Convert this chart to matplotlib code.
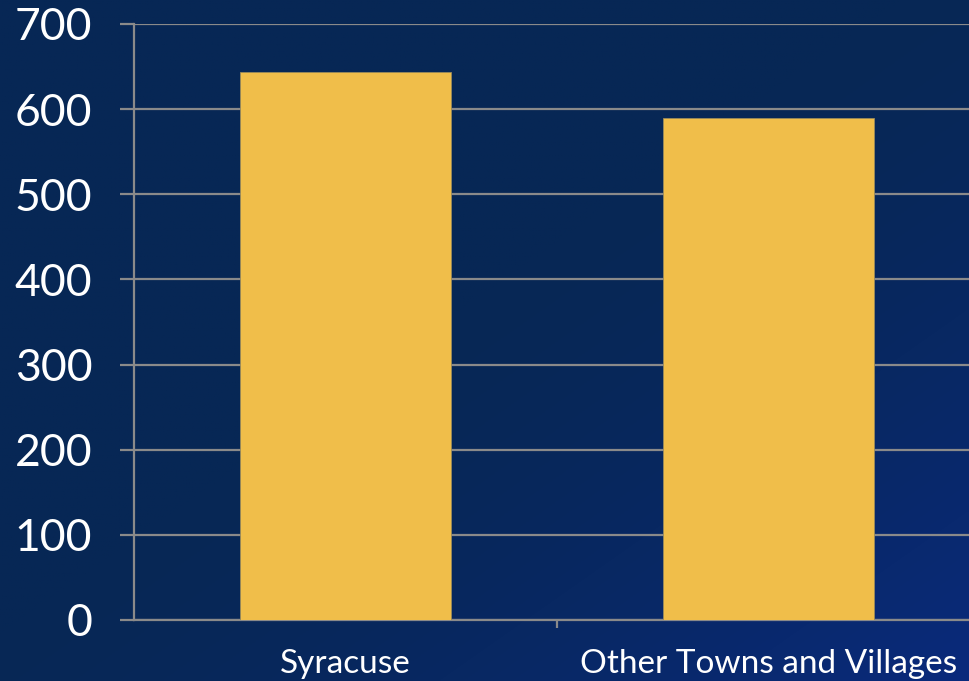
import numpy as np
import matplotlib
matplotlib.use("Agg")
import matplotlib.pyplot as plt
from matplotlib.colors import LinearSegmentedColormap

categories = ["Syracuse", "Other Towns and Villages"]
values = [644, 590]
yticks = [0, 100, 200, 300, 400, 500, 600, 700]

plt.rcParams['font.family'] = ['Lato', 'DejaVu Sans']

fig = plt.figure(figsize=(9.69, 6.81), dpi=100)

# background gradient, dark navy top-left to brighter blue bottom-right
bg = fig.add_axes([0, 0, 1, 1], zorder=0)
gx, gy = np.meshgrid(np.linspace(0, 1, 300), np.linspace(0, 1, 300))
g = np.clip((gx + gy - 0.9) / 1.1, 0, 1) ** 1.6
cmap = LinearSegmentedColormap.from_list("bg", ["#072755", "#0a2a7c"])
bg.imshow(g, cmap=cmap, aspect="auto", extent=[0, 1, 0, 1], origin="upper")
bg.axis("off")

ax = fig.add_axes([134 / 969, 1 - 620 / 681, 846 / 969, 596 / 681], zorder=1)
ax.patch.set_alpha(0)

x = np.arange(len(categories))
ax.bar(x, values, width=0.5, color="#f0be4a", edgecolor="#9a8a5a",
       linewidth=0.6, zorder=3)

ax.set_xlim(-0.5, 1.5)
ax.set_ylim(0, 700)
ax.set_yticks(yticks)
ax.set_yticklabels([str(t) for t in yticks])
ax.set_xticks([0.5])
ax.set_xticklabels([])
ax.set_xticks(x, minor=True)
ax.set_xticklabels(categories, minor=True)

ax.grid(axis="y", color="#8a8a8a", linewidth=1.6, zorder=1)
for s in ["top", "right"]:
    ax.spines[s].set_visible(False)
for s in ["left", "bottom"]:
    ax.spines[s].set_color("#8a8a8a")
    ax.spines[s].set_linewidth(1.6)

ax.tick_params(axis="y", which="major", length=10, width=1.6, color="#8a8a8a",
               labelcolor="white", labelsize=32, pad=20)
ax.tick_params(axis="x", which="major", length=6, width=1.6, color="#8a8a8a")
ax.tick_params(axis="x", which="minor", length=0, labelcolor="white",
               labelsize=24, pad=21)

fig.savefig("out.png", dpi=100, facecolor="#072755")
